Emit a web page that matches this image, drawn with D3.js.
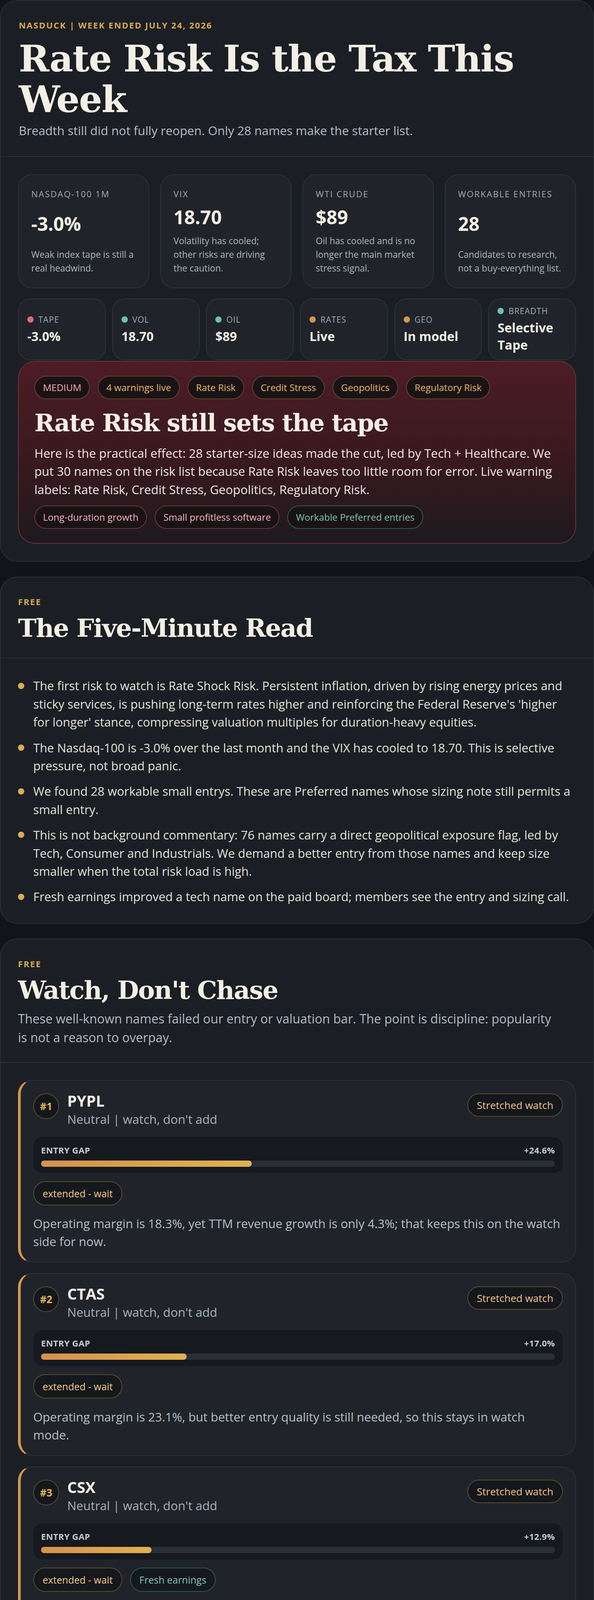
<!DOCTYPE html>
<html>
<head>
<meta charset="utf-8">
<script src="https://cdn.jsdelivr.net/npm/d3@7"></script>
</head>
<body>
<div class="page" id="page"></div>
<script>
// ---- header ----
const issueKicker = "NASDUCK | Week ended July 24, 2026";
const issueTitle = "Rate Risk Is the Tax This Week";
const issueSub = "Breadth still did not fully reopen. Only 28 names make the starter list.";

// ---- KPI cards ----
const kpiLabels = ["Nasdaq-100 1M", "VIX", "WTI crude", "Workable entries"];
const kpiValues = ["-3.0%", "18.70", "$89", "28"];
const kpiNotes = [
  "Weak index tape is still a real headwind.",
  "Volatility has cooled; other risks are driving the caution.",
  "Oil has cooled and is no longer the main market stress signal.",
  "Candidates to research, not a buy-everything list."
];

// ---- tape strip ----
const tapeLabels = ["Tape", "Vol", "Oil", "Rates", "Geo", "Breadth"];
const tapeValues = ["-3.0%", "18.70", "$89", "Live", "In model", "Selective Tape"];
const tapeTones = ["red", "teal", "teal", "amber", "amber", "teal"];

// ---- alert ----
const alertLevel = "MEDIUM";
const alertTags = ["4 warnings live", "Rate Risk", "Credit Stress", "Geopolitics", "Regulatory Risk"];
const alertTitle = "Rate Risk still sets the tape";
const alertText = "Here is the practical effect: 28 starter-size ideas made the cut, led by Tech + Healthcare. We put 30 names on the risk list because Rate Risk leaves too little room for error. Live warning labels: Rate Risk, Credit Stress, Geopolitics, Regulatory Risk.";
const themeTags = ["Long-duration growth", "Small profitless software", "Workable Preferred entries"];
const themeTones = ["red", "red", "teal"];

// ---- five-minute read ----
const readBullets = [
  "The first risk to watch is Rate Shock Risk. Persistent inflation, driven by rising energy prices and sticky services, is pushing long-term rates higher and reinforcing the Federal Reserve's 'higher for longer' stance, compressing valuation multiples for duration-heavy equities.",
  "The Nasdaq-100 is -3.0% over the last month and the VIX has cooled to 18.70. This is selective pressure, not broad panic.",
  "We found 28 workable small entrys. These are Preferred names whose sizing note still permits a small entry.",
  "This is not background commentary: 76 names carry a direct geopolitical exposure flag, led by Tech, Consumer and Industrials. We demand a better entry from those names and keep size smaller when the total risk load is high.",
  "Fresh earnings improved a tech name on the paid board; members see the entry and sizing call."
];

// ---- watch list ----
const pickTickers = ["PYPL", "CTAS", "CSX", "PCAR"];
const pickStances = ["Neutral | watch, don't add", "Neutral | watch, don't add", "Neutral | watch, don't add", "Avoid | stay out"];
const pickBadges = ["Stretched watch", "Stretched watch", "Stretched watch", "De-risk watch"];
const pickGaps = [24.6, 17.0, 12.9, 12.5];
const pickTags = [["extended - wait"], ["extended - wait"], ["extended - wait", "Fresh earnings"], ["extended - wait"]];
const pickTones = ["amber", "amber", "amber", "red"];
const pickNotes = [
  "Operating margin is 18.3%, yet TTM revenue growth is only 4.3%; that keeps this on the watch side for now.",
  "Operating margin is 23.1%, but better entry quality is still needed, so this stays in watch mode.",
  "New earnings: FY2026 Q2 filed 2026-07-22: revenue 10.1% YoY, EPS 22.7% YoY, FCF -1426.2% YoY. Operating margin is 32.1%, yet TTM revenue growth is only -3.1%; that keeps this on the watch side for now.",
  "Price is holding above the 50-day area near $118.74, yet TTM revenue growth is only -15.5%; that is why this is only a starter."
];
const gapMax = 60;

// ---- proof curve ----
const weekLabels = ["W0", "W1", "W2", "W3", "W4", "W5", "W6", "W7", "W8", "W9", "W10", "W11", "W12", "W13", "W14"];
const panwReturns = [-1.8, 4.6, 6.1, 22.7, 44.2, 55.3, 68.3, 62.5, 67.0, 72.0, 82.2, 109.5, 95.6, 116.0, 94.0];
const qqqReturns = [-1.8, 0.4, 1.9, 8.0, 7.7, 8.8, 12.3, 6.9, 9.6, 9.6, 8.7, 8.4, 10.4, 5.4, 5.0];
const legendItems = ["PANW +92.9%", "QQQ proxy +6.7%"];
const curveNote = "Lead call is up 92.9% since the pick; QQQ proxy is up 6.7% over the same weeks.";

// ---- styles (written at 1x, doubled for the 1520px page) ----
const css1x = `
  html, body { margin: 0; padding: 0; background: #111418; }
  body { font-family: "Open Sans", "Noto Sans", sans-serif; color: #f3eee4; }
  .page { width: 760px; }
  .card { background: #1b1f25; border: 1px solid #2a2f36; border-radius: 22px; margin-bottom: 19px; }
  .card:last-child { margin-bottom: 0; }
  .hero { padding: 23px 23px 22px; border-bottom: 1px solid #2a2f36; }
  .kicker { font-size: 11px; line-height: 16px; letter-spacing: .1em; text-transform: uppercase; color: #d6a94e; font-weight: 700; }
  h1 { font-family: "DejaVu Serif", serif; font-weight: 700; font-size: 47px; line-height: 52px; letter-spacing: -.02em; margin: 9px 0 0; color: #f4efe4; }
  .sub { font-size: 15.6px; line-height: 22px; color: #b6bdc7; margin-top: 3px; }
  .body { padding: 22px; }

  .kpis { display: grid; grid-template-columns: repeat(4, 1fr); gap: 14px; }
  .kpi { height: 146px; box-sizing: border-box; padding: 16px; background: #20242a; border: 1px solid #2c3138; border-radius: 18px; display: flex; flex-direction: column; }
  .kpi-label { font-size: 11px; line-height: 16px; letter-spacing: .1em; text-transform: uppercase; color: #a2aab4; }
  .kpi-value { flex: 1; display: flex; align-items: center; font-size: 24px; line-height: 33px; font-weight: 700; color: #f4efe4; }
  .kpi-note { font-size: 11.5px; line-height: 17.5px; color: #adb4be; }

  .tape { display: grid; grid-template-columns: repeat(6, 1fr); gap: 8px; margin-top: 13px; }
  .tile { height: 79px; box-sizing: border-box; padding: 7px 11px; background: #20242a; border: 1px solid #2c3138; border-radius: 16px; display: flex; flex-direction: column; justify-content: center; }
  .tile-label { display: flex; align-items: center; gap: 6px; font-size: 10.5px; line-height: 15px; letter-spacing: .05em; text-transform: uppercase; color: #a2aab4; }
  .tile-label i { width: 8px; height: 8px; border-radius: 50%; flex: none; }
  .tile-value { margin-top: 3px; font-size: 16px; line-height: 22px; font-weight: 700; color: #f4efe4; }

  .alert { margin-top: 1px; height: 234px; box-sizing: border-box; padding: 18px 20px; border: 1px solid #6e2f3a; border-radius: 22px;
           background: linear-gradient(180deg, #4d1c26 0%, #38191f 55%, #1d1a1e 100%); }
  .pills { display: flex; gap: 10px; flex-wrap: wrap; }
  .pill { height: 30px; box-sizing: border-box; padding: 0 10px; line-height: 28px; border-radius: 15px; font-size: 12px; border: 1px solid #5e4529; background: #1a1315; color: #e3bb63; white-space: nowrap; }
  .alert h2 { font-family: "DejaVu Serif", serif; font-weight: 700; font-size: 31px; line-height: 36.5px; letter-spacing: -.03em; margin: 12.2px 0 0; color: #f6efe6; }
  .alert p { margin: 8.6px 0 0; font-size: 15.6px; line-height: 23.3px; color: #efe4e4; }
  .alert .pills.themes { margin-top: 8.7px; }

  .sec-head { padding: 23px 22px 19.5px; border-bottom: 1px solid #2a2f36; }
  h2.sec { font-family: "DejaVu Serif", serif; font-weight: 700; font-size: 32px; line-height: 37.5px; letter-spacing: -.03em; margin: 7px 0 0; color: #f4efe4; }
  .sec-desc { font-size: 16px; line-height: 24px; color: #b3bac4; margin-top: 6px; max-width: 690px; }

  .body.read-body { padding: 23.2px 22px 22px; }
  ul.read { list-style: none; margin: 0; padding: 0; }
  ul.read li { position: relative; padding-left: 19.5px; font-size: 15.4px; line-height: 23.2px; margin-bottom: 9.5px; color: #e4e0d8; }
  ul.read li:last-child { margin-bottom: 0; }
  ul.read li::before { content: ""; position: absolute; left: 0; top: 7.6px; width: 8px; height: 8px; border-radius: 50%; background: #d9ad55; }

  .picks { display: flex; flex-direction: column; gap: 13.5px; }
  .pick { background: #20242a; border: 1px solid #2c3138; border-left: 3.5px solid #d6944f; border-radius: 18px; padding: 16px 16px 14.5px; }
  .pick-head { display: flex; align-items: flex-start; }
  .rank { width: 33px; height: 33px; box-sizing: border-box; border-radius: 50%; border: 1px solid #5d4a2c; background: #14171b; display: flex; align-items: center; justify-content: center; font-size: 13px; line-height: 18px; font-weight: 700; color: #e1b45a; flex: none; }
  .who { margin-left: 10.5px; margin-top: -4.5px; }
  .ticker { font-size: 19.5px; line-height: 27.5px; font-weight: 700; color: #f4efe4; }
  .stance { font-size: 15.6px; line-height: 22px; color: #a9b1bb; margin-top: -1px; }
  .badge { margin-left: auto; height: 30px; box-sizing: border-box; line-height: 28px; padding: 0 11px; border-radius: 15px; font-size: 13px; border: 1px solid #5d4a2c; background: #14171b; color: #f2c387; white-space: nowrap; }
  .gapbox { margin-top: 12px; background: #16191d; border-radius: 12px; padding: 9px 10px 8px; }
  .gap-row { display: flex; justify-content: space-between; font-size: 11px; line-height: 15px; letter-spacing: .02em; font-weight: 700; color: #c3c9d1; }
  .gapbox svg { display: block; margin-top: 6px; width: 100%; height: 8px; }
  .tags { display: flex; gap: 10px; margin-top: 10.5px; }
  .tag { height: 31px; box-sizing: border-box; line-height: 29px; padding: 0 11px; border-radius: 15.5px; font-size: 12.5px; border: 1px solid #5d4a2c; background: #15181c; color: #f4c88a; white-space: nowrap; }
  .pick p { margin: 11.7px 0 0; font-size: 15.5px; line-height: 23px; color: #b8bfc8; }

  .proof { border: 1px solid #5c4f2e; border-radius: 20px; background: linear-gradient(180deg, #2f2d27 0%, #25262a 45%, #1e2125 100%); padding: 16px 16px 12px; }
  .proof-label { font-size: 10.5px; line-height: 16px; letter-spacing: .08em; text-transform: uppercase; color: #a9b0b9; font-weight: 700; }
  .proof-title { font-family: "DejaVu Serif", serif; font-weight: 700; font-size: 19.5px; line-height: 23.4px; letter-spacing: -.02em; margin-top: 11.5px; color: #f4efe4; }
  .panel { margin-top: 9.5px; height: 358px; background: #15181c; border-radius: 16px; box-shadow: inset 0 0 14px rgba(0,0,0,.45); }
  .panel svg { display: block; }
  .legend { margin-top: 13.3px; display: flex; align-items: center; gap: 12.5px; font-size: 11px; line-height: 16px; letter-spacing: .03em; text-transform: uppercase; color: #b7bec7; font-weight: 600; }
  .legend span { display: flex; align-items: center; gap: 6px; }
  .legend i { width: 8px; height: 8px; border-radius: 50%; }
  .note { margin-top: 12.3px; font-size: 11.5px; line-height: 18px; color: #a7afb8; }

  .members { border: 1px solid #6b5b34; border-radius: 22px; background: linear-gradient(180deg, #3b372c 0%, #35322a 45%, #1f1f1e 100%); padding: 20px 20px 17px; }
  .members h2.sec { margin-top: 8px; }
  .members .sec-desc { margin-top: 9px; font-size: 15.5px; line-height: 22.5px; color: #ede7db; max-width: none; }
`;
const css2x = css1x.replace(/(\d*\.?\d+)px/g, (m, n) => (+n * 2) + "px");
d3.select("head").append("style").text(css2x);

// 颜色
const toneDot = { red: "#e06b78", teal: "#6cc0b4", amber: "#d9934f" };
const toneAccent = { amber: "#d6944f", red: "#d66b78" };
const sansStack = "'Open Sans', 'Noto Sans', sans-serif";

const page = d3.select("#page");

// ===== hero + market body =====
const c1 = page.append("section").attr("class", "card");
const hero = c1.append("header").attr("class", "hero");
hero.append("div").attr("class", "kicker").text(issueKicker);
hero.append("h1").text(issueTitle);
hero.append("div").attr("class", "sub").text(issueSub);

const b1 = c1.append("div").attr("class", "body");
const kpi = b1.append("div").attr("class", "kpis")
  .selectAll("div").data(kpiLabels).join("div").attr("class", "kpi");
kpi.append("div").attr("class", "kpi-label").text(d => d);
kpi.append("div").attr("class", "kpi-value").text((d, i) => kpiValues[i]);
kpi.append("div").attr("class", "kpi-note").text((d, i) => kpiNotes[i]);

const tile = b1.append("div").attr("class", "tape")
  .selectAll("div").data(tapeLabels).join("div").attr("class", "tile");
const tl = tile.append("div").attr("class", "tile-label");
tl.append("i").style("background", (d, i) => toneDot[tapeTones[i]]);
tl.append("span").text(d => d);
tile.append("div").attr("class", "tile-value").text((d, i) => tapeValues[i]);

const alert = b1.append("div").attr("class", "alert");
const ap = alert.append("div").attr("class", "pills");
ap.append("span").attr("class", "pill")
  .style("color", "#f2a7b5").style("border-color", "#6b3a45").text(alertLevel);
ap.selectAll("span.tagp").data(alertTags).join("span").attr("class", "pill tagp").text(d => d);
alert.append("h2").text(alertTitle);
alert.append("p").text(alertText);
alert.append("div").attr("class", "pills themes")
  .selectAll("span").data(themeTags).join("span").attr("class", "pill")
  .style("color", (d, i) => themeTones[i] === "teal" ? "#7cc6b5" : "#f4b3be")
  .style("border-color", (d, i) => themeTones[i] === "teal" ? "#2e5a55" : "#6b3540")
  .text(d => d);

// ===== five-minute read =====
function sectionHead(card, kicker, title, desc) {
  const h = card.append("header").attr("class", "sec-head");
  h.append("div").attr("class", "kicker").text(kicker);
  h.append("h2").attr("class", "sec").text(title);
  if (desc) h.append("div").attr("class", "sec-desc").text(desc);
}
const c2 = page.append("section").attr("class", "card");
sectionHead(c2, "Free", "The Five-Minute Read");
c2.append("div").attr("class", "body read-body").append("ul").attr("class", "read")
  .selectAll("li").data(readBullets).join("li").text(d => d);

// ===== watch list =====
const c3 = page.append("section").attr("class", "card");
sectionHead(c3, "Free", "Watch, Don't Chase",
  "These well-known names failed our entry or valuation bar. The point is discipline: popularity is not a reason to overpay.");
const trackW = 657;
const gx = d3.scaleLinear().domain([0, gapMax]).range([0, trackW]);
const pick = c3.append("div").attr("class", "body").append("div").attr("class", "picks")
  .selectAll("div").data(pickTickers).join("div").attr("class", "pick")
  .style("border-left-color", (d, i) => toneAccent[pickTones[i]]);
const head = pick.append("div").attr("class", "pick-head");
head.append("div").attr("class", "rank").text((d, i) => "#" + (i + 1))
  .style("color", (d, i) => pickTones[i] === "red" ? "#f0a3b0" : null)
  .style("border-color", (d, i) => pickTones[i] === "red" ? "#6a3a44" : null);
const who = head.append("div").attr("class", "who");
who.append("div").attr("class", "ticker").text(d => d);
who.append("div").attr("class", "stance").text((d, i) => pickStances[i]);
head.append("div").attr("class", "badge").text((d, i) => pickBadges[i])
  .style("color", (d, i) => pickTones[i] === "red" ? "#f6c6cc" : null)
  .style("border-color", (d, i) => pickTones[i] === "red" ? "#6a3a44" : null);

const gb = pick.append("div").attr("class", "gapbox");
const gr = gb.append("div").attr("class", "gap-row");
gr.append("span").text("ENTRY GAP");
gr.append("span").text((d, i) => "+" + pickGaps[i].toFixed(1) + "%");
const gsvg = gb.append("svg").attr("viewBox", `0 0 ${trackW} 8`).attr("preserveAspectRatio", "none");
gsvg.each(function(d, i) {
  const s = d3.select(this);
  const gid = "gapfill" + i;
  const lg = s.append("defs").append("linearGradient").attr("id", gid);
  const stops = pickTones[i] === "red" ? ["#d8677a", "#d99a55"] : ["#d4914f", "#e0b24f"];
  lg.append("stop").attr("offset", "0%").attr("stop-color", stops[0]);
  lg.append("stop").attr("offset", "100%").attr("stop-color", stops[1]);
  s.append("rect").attr("x", gx(0)).attr("y", 0).attr("width", gx(gapMax)).attr("height", 8)
    .attr("rx", 4).attr("fill", "#2a2e35");
  s.append("rect").attr("x", gx(0)).attr("y", 0).attr("width", gx(pickGaps[i])).attr("height", 8)
    .attr("rx", 4).attr("fill", `url(#${gid})`);
});
pick.append("div").attr("class", "tags")
  .selectAll("span").data((d, i) => pickTags[i]).join("span").attr("class", "tag")
  .style("color", d => d === "Fresh earnings" ? "#7cc7b6" : null)
  .style("border-color", d => d === "Fresh earnings" ? "#2d5652" : null)
  .text(d => d);
pick.append("p").text((d, i) => pickNotes[i]);

// ===== proof curve =====
const c4 = page.append("section").attr("class", "card");
sectionHead(c4, "Free proof", "The Longer Holds Look Better",
  "Best dated wins from stored calls. The job is to catch these before they become obvious.");
const proof = c4.append("div").attr("class", "body").append("div").attr("class", "proof");
proof.append("div").attr("class", "proof-label").text("Proof curve");
proof.append("div").attr("class", "proof-title").text("Long-Hold Curve: PANW vs QQQ proxy");
const panel = proof.append("div").attr("class", "panel");

// chart in 1x units, scaled up by the viewBox
const W = 682, H = 358;
const svg = panel.append("svg").attr("width", W * 2).attr("height", H * 2).attr("viewBox", `0 0 ${W} ${H}`);
const x = d3.scalePoint().domain(weekLabels).range([60.5, 649.5]);
const yMin = d3.min(panwReturns.concat(qqqReturns));
const yMax = d3.max(panwReturns.concat(qqqReturns));
const y = d3.scaleLinear().domain([yMin, yMax]).range([299.6, 30.6]);
const gridY = d3.scaleLinear().domain([1, 4]).range([76.1, 320.1]);

const grad = svg.append("defs").append("linearGradient").attr("id", "panwGrad")
  .attr("gradientUnits", "userSpaceOnUse")
  .attr("x1", x.range()[0]).attr("x2", x.range()[1]).attr("y1", 0).attr("y2", 0);
[["0%", "#6fd0b6"], ["40%", "#9bbd8e"], ["70%", "#cdb462"], ["100%", "#e2b552"]]
  .forEach(s => grad.append("stop").attr("offset", s[0]).attr("stop-color", s[1]));

svg.append("g").selectAll("line").data([1, 2, 3, 4]).join("line")
  .attr("x1", x.range()[0]).attr("x2", x.range()[1])
  .attr("y1", d => gridY(d)).attr("y2", d => gridY(d))
  .attr("stroke", "#2a2e35").attr("stroke-width", 1.5);

const yTicks = [yMax, (yMin + yMax) / 2, yMin];
const fmt = v => (Math.round(v) > 0 ? "+" : "") + Math.round(v) + "%";
svg.append("g").attr("transform", "translate(53.3,0)")
  .call(d3.axisLeft(y).tickValues(yTicks).tickFormat(fmt).tickSize(0).tickPadding(0))
  .call(g => g.select(".domain").remove())
  .call(g => g.selectAll("text").attr("fill", "#c0c6cf").attr("font-size", 14)
    .attr("font-family", sansStack));

svg.append("g").attr("transform", "translate(0,341.6)")
  .call(d3.axisBottom(x).tickSize(0).tickPadding(0))
  .call(g => g.select(".domain").remove())
  .call(g => g.selectAll("text").attr("y", 0).attr("dy", 0).attr("fill", "#c6ccd4")
    .attr("font-size", 20).attr("font-weight", 700).attr("font-family", sansStack));

svg.append("text").attr("x", 64.2).attr("y", 45.5)
  .attr("fill", "#e0b450").attr("font-size", 19.5).attr("font-weight", 700)
  .attr("font-family", sansStack).text("Return since Apr 18 call");

const line = d3.line().x((d, i) => x(weekLabels[i])).y(d => y(d));
svg.append("path").datum(qqqReturns).attr("d", line).attr("fill", "none")
  .attr("stroke", "#80858f").attr("stroke-width", 6).attr("stroke-opacity", 0.9)
  .attr("stroke-linejoin", "round").attr("stroke-linecap", "round");
svg.append("g").selectAll("circle").data(qqqReturns).join("circle")
  .attr("cx", (d, i) => x(weekLabels[i])).attr("cy", d => y(d)).attr("r", 6).attr("fill", "#cfd5dd");
svg.append("path").datum(panwReturns).attr("d", line).attr("fill", "none")
  .attr("stroke", "url(#panwGrad)").attr("stroke-width", 5)
  .attr("stroke-linejoin", "round").attr("stroke-linecap", "round");
svg.append("g").selectAll("circle").data(panwReturns).join("circle")
  .attr("cx", (d, i) => x(weekLabels[i])).attr("cy", d => y(d)).attr("r", 6).attr("fill", "#e2b552");

const lg = proof.append("div").attr("class", "legend").selectAll("span").data(legendItems).join("span");
lg.append("i").style("background", (d, i) => i === 0 ? "#e2b552" : "#cfd5dd");
lg.append("b").style("font-weight", 600).text(d => d);
proof.append("div").attr("class", "note").text(curveNote);

// ===== members =====
const c5 = page.append("section").attr("class", "card");
const mem = c5.append("div").attr("class", "body").append("div").attr("class", "members");
mem.append("div").attr("class", "kicker").text("Members");
mem.append("h2").attr("class", "sec").text("Members Get The Live Board");
mem.append("div").attr("class", "sec-desc")
  .text("Free shows what already paid. Members is where the next ranked setup, risk call, and entry status live.");
</script>
</body>
</html>
